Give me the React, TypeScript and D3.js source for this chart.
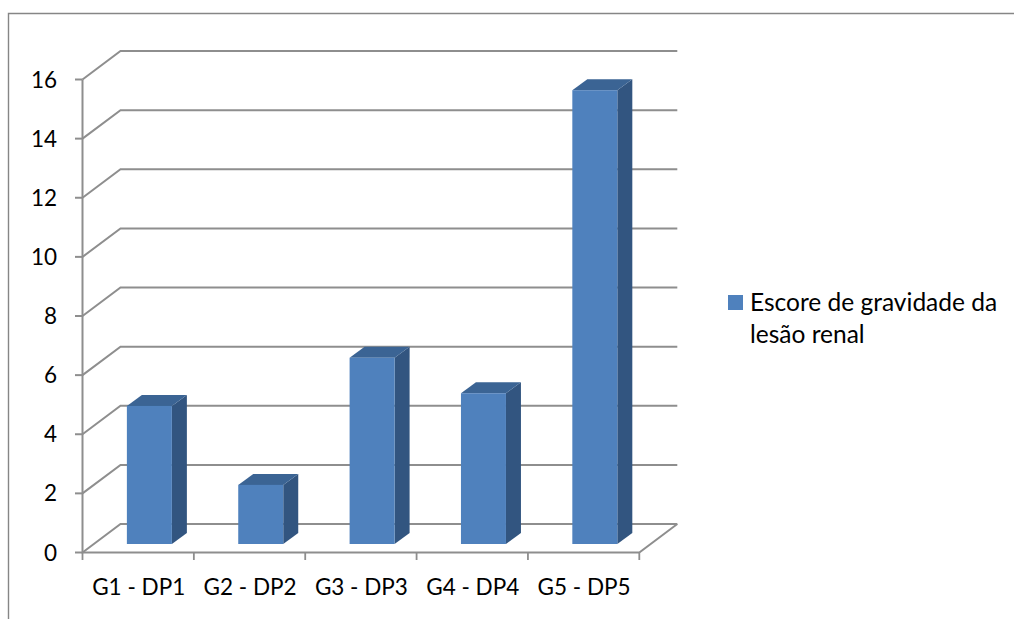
import React from "react";
import * as d3 from "d3";

const categories = ["G1 - DP1", "G2 - DP2", "G3 - DP3", "G4 - DP4", "G5 - DP5"];
const scores = [4.67, 2.0, 6.3, 5.1, 15.35];
const yTicks = [0, 2, 4, 6, 8, 10, 12, 14, 16];
const seriesName = ["Escore de gravidade da", "lesão renal"];

const WIDTH = 1014;
const HEIGHT = 619;
const FONT = "Lato, 'Open Sans', sans-serif";
const GRID = "#8e8e8e";

// Oblique offsets of the 3D box: back wall, bar base inside the floor, bar depth.
const WALL = { dx: 38, dy: -28.5 };
const BASE = { dx: 11.2, dy: -8.5 };
const DEPTH = { dx: 15, dy: -11 };
const BAR_WIDTH = 45;

const x = d3.scaleBand<string>().domain(categories).range([82.5, 639.3]);
const y = d3.scaleLinear().domain([0, 16]).range([552.5, 79.5]);
const diag = d3.line();

export default function App() {
  const x0 = x.range()[0];
  const x1 = x.range()[1];
  const edges = [x0, ...categories.map((c) => (x(c) as number) + x.bandwidth())];

  return (
    <svg
      width={WIDTH}
      height={HEIGHT}
      style={{ position: "absolute", left: 0, top: 0, background: "#fff" }}
      fontFamily={FONT}
    >
      {/* chart frame */}
      <path d={`M8.5 619V13.5H${WIDTH}`} fill="none" stroke="#868686" strokeWidth={1.4} />

      {/* gridlines on side wall and back wall */}
      {yTicks.map((t) => (
        <path
          key={t}
          d={
            diag([
              [x0, y(t)],
              [x0 + WALL.dx, y(t) + WALL.dy],
              [x1 + WALL.dx, y(t) + WALL.dy],
            ]) as string
          }
          fill="none"
          stroke={GRID}
          strokeWidth={2}
        />
      ))}

      {/* floor edge and front axes */}
      <path
        d={
          diag([
            [x0, y(16)],
            [x0, y(0)],
            [x1, y(0)],
            [x1 + WALL.dx, y(0) + WALL.dy],
          ]) as string
        }
        fill="none"
        stroke={GRID}
        strokeWidth={2}
      />
      {yTicks.map((t) => (
        <line key={t} x1={x0 - 7.5} x2={x0} y1={y(t)} y2={y(t)} stroke={GRID} strokeWidth={2} />
      ))}
      {edges.map((e) => (
        <line key={e} x1={e} x2={e} y1={y(0)} y2={y(0) + 7.5} stroke={GRID} strokeWidth={1.8} />
      ))}

      {/* bars: side, top, front */}
      {categories.map((c, i) => {
        const left = (x(c) as number) + (x.bandwidth() - BAR_WIDTH) / 2 + BASE.dx;
        const right = left + BAR_WIDTH;
        const bottom = y(0) + BASE.dy;
        const top = y(scores[i]) + BASE.dy;
        const side = [
          [right, top],
          [right + DEPTH.dx, top + DEPTH.dy],
          [right + DEPTH.dx, bottom + DEPTH.dy],
          [right, bottom],
        ] as [number, number][];
        const cap = [
          [left, top],
          [left + DEPTH.dx, top + DEPTH.dy],
          [right + DEPTH.dx, top + DEPTH.dy],
          [right, top],
        ] as [number, number][];
        return (
          <g key={c}>
            <path d={`${diag(side)}Z`} fill="#325580" />
            <path d={`${diag(cap)}Z`} fill="#3b6494" />
            <rect x={left} y={top} width={BAR_WIDTH} height={bottom - top} fill="#4f81bd" />
          </g>
        );
      })}

      {/* value axis labels */}
      {yTicks.map((t) => (
        <text key={t} x={57} y={y(t)} dy={8} textAnchor="end" fontSize={22.5} fill="#000">
          {t}
        </text>
      ))}

      {/* category labels */}
      {categories.map((c) => (
        <text
          key={c}
          x={(x(c) as number) + x.bandwidth() / 2 + 0.5}
          y={595}
          textAnchor="middle"
          fontSize={22.5}
          fill="#000"
        >
          {c}
        </text>
      ))}

      {/* legend */}
      <rect x={728} y={295} width={15} height={15} fill="#4f81bd" />
      {seriesName.map((line, i) => (
        <text key={line} x={750} y={311 + i * 32} fontSize={24.5} fill="#000">
          {line}
        </text>
      ))}
    </svg>
  );
}
